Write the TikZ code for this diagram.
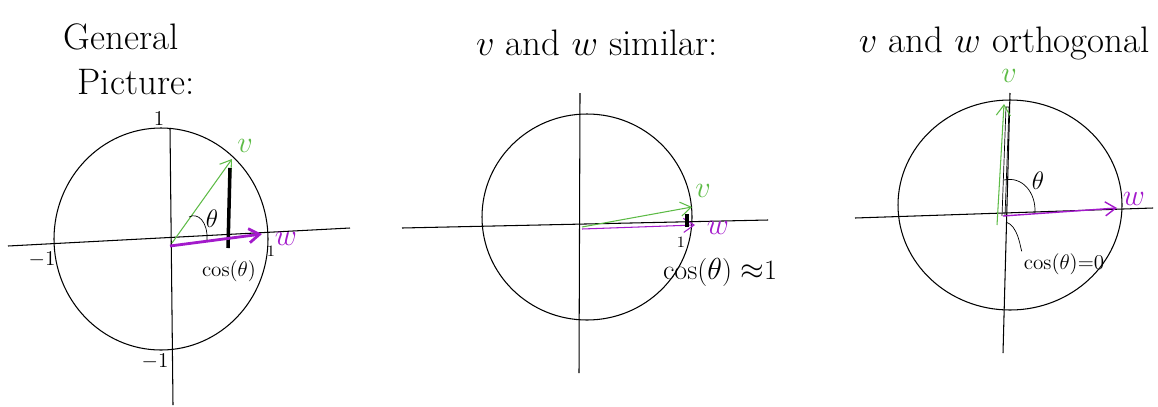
\documentclass[tikz,border=0pt]{standalone}
\usepackage{amsmath,amssymb}
\usepackage{tikz}
\usetikzlibrary{arrows.meta}
\definecolor{vgreen}{HTML}{5DBB46}
\definecolor{wpurple}{HTML}{A31ACB}
\tikzset{
  axis/.style={black,line width=0.6pt},
  unit/.style={black,semithick},
  vec/.style={-{Straight Barb[length=6pt,width=8pt]},semithick},
  title/.style={font=\fontsize{21}{24}\selectfont},
  lab/.style={font=\fontsize{18}{20}\selectfont,inner sep=1pt},
  small/.style={font=\fontsize{12}{14}\selectfont,inner sep=1pt}
}

\begin{document}
\begin{tikzpicture}[x=0.02cm,y=-0.02cm]
  \useasboundingbox (0,0) rectangle (1158,406);
  % general picture
  \node[title] (t1a) at (121,37) {General};
  \node[title] (t1b) at (136,82) {Picture:};
  \draw[unit] (161,239) ellipse[x radius=107,y radius=111];
  \coordinate (o1) at (172,243);
  \draw[axis] (8,246) -- (350,228);
  \draw[axis] (170,128) -- (173,405);
  \node[small] (p1) at (159,118) {1};
  \node[small] (m1) at (42,260) {$-1$};
  \node[small] (m1b) at (155,362) {$-1$};
  \node[small,font=\fontsize{9}{10}\selectfont] (q1) at (271,251) {1};
  \coordinate (v1) at (232,159);
  \coordinate (w1) at (262,234);
  \draw[vec,vgreen] (o1) -- (v1);
  \node[lab,vgreen] (lv1) at (245,146) {$v$};
  \draw[line width=2pt] (230,168) coordinate (c1a) -- (228,248) coordinate (c1b);
  \draw[vec,wpurple,line width=1.6pt] (170,246) -- (w1);
  \node[lab,wpurple] (lw1) at (286,239) {$w$};
  \draw (189,217) .. controls (198,212) and (208,222) .. (207,240);
  \node[small,font=\fontsize{14}{16}\selectfont] (th1) at (212,219) {$\theta$};
  \node[small] (cos1) at (229,271) {cos($\theta$)};
  % v and w similar
  \node[title] (t2) at (597,43) {$v$ and $w$ similar:};
  \draw[unit] (587,217) ellipse[x radius=105,y radius=103];
  \coordinate (o2) at (582,227);
  \draw[axis] (402,228) -- (768,220);
  \draw[axis] (580,93) -- (579,373);
  \coordinate (v2) at (692,207);
  \coordinate (w2) at (695,225);
  \draw[vec,vgreen] (o2) -- (v2);
  \draw[vec,wpurple] (582,229) -- (w2);
  \node[lab,vgreen] (lv2) at (703,191) {$v$};
  \node[lab,wpurple] (lw2) at (718,228) {$w$};
  \draw[line width=2pt] (687,214) -- (687,227);
  \node[small,font=\fontsize{9}{10}\selectfont] (q2) at (681,242) {1};
  \node[small,font=\fontsize{16}{18}\selectfont] (cos2) at (720,272) {cos($\theta$) $\approx$1};
  % v and w orthogonal
  \node[title,anchor=east] (t3) at (1156,43) {$v$ and $w$ orthogonal};
  \draw[unit] (1010,205) ellipse[x radius=112,y radius=105];
  \coordinate (o3) at (1003,216);
  \draw[axis] (855,218) -- (1153,208);
  \draw[axis] (1010,93) -- (1003,353);
  \draw[thin] (1002,216) -- (1006,107) -- (1009,107) -- (1005,216);
  \coordinate (v3) at (1004,104);
  \coordinate (w3) at (1117,208);
  \draw[vec,vgreen] (997,225) -- (v3);
  \draw[vec,wpurple,thick] (o3) -- (w3);
  \node[lab,vgreen] (lv3) at (1009,76) {$v$};
  \node[lab,wpurple] (lw3) at (1134,199) {$w$};
  \draw (1004,180) .. controls (1022,176) and (1036,192) .. (1035,213);
  \node[small,font=\fontsize{14}{16}\selectfont] (th3) at (1038,181) {$\theta$};
  \node[small] (cos3) at (1064,264) {cos($\theta$)=0};
  \draw (1006,222) .. controls (1018,226) and (1020,246) .. (cos3.north west);
\end{tikzpicture}
\end{document}
